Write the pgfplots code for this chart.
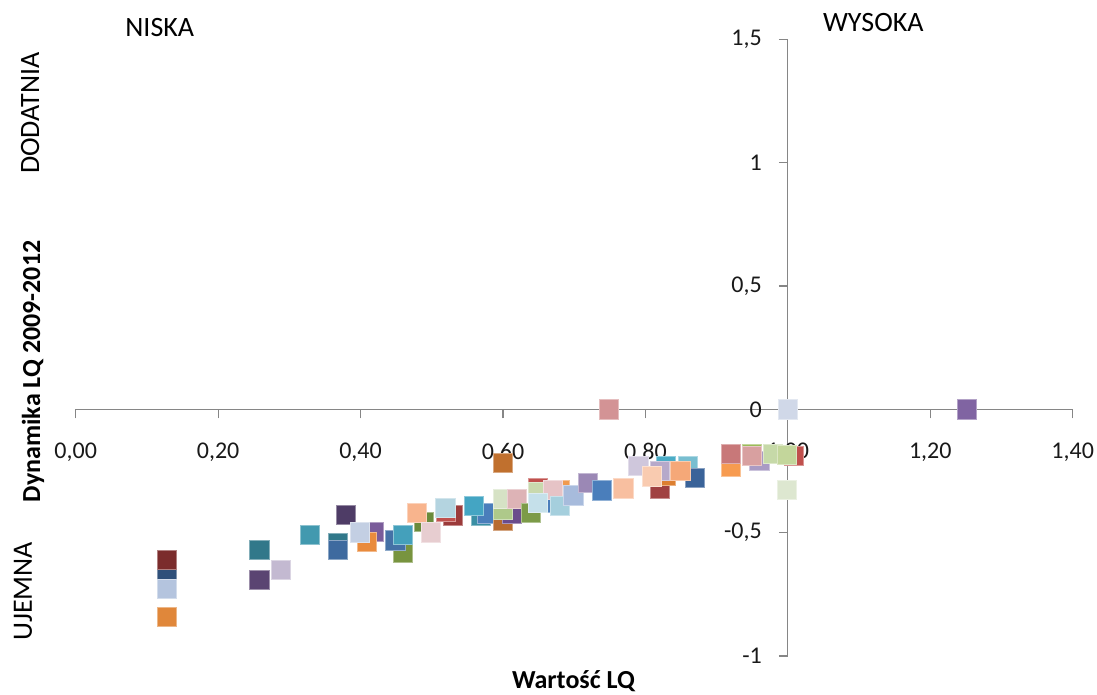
\documentclass[border=0pt]{standalone}
\usepackage{pgfplots}
\pgfplotsset{compat=1.18}
\usepackage{fontspec}
\setmainfont{Carlito}
\definecolor{axgray}{HTML}{868686}
\begin{document}
\begin{tikzpicture}
\path[use as bounding box] (-37.85pt,-19.5pt) rectangle (510.65pt,328pt);
% axis lines, ticks and tick labels (y axis crosses at LQ = 1)
\begin{axis}[
	at={(0pt,0pt)},anchor=south west,
	width=498.5pt,height=308.35pt,scale only axis,
	xmin=-1,xmax=0.4,ymin=-1,ymax=1.5,
	axis lines=middle,
	axis line style={draw=axgray,line width=0.6pt,-},
	tick align=outside,major tick length=4.5pt,
	tick style={draw=axgray,line width=0.6pt},
	hide obscured x ticks=false,hide obscured y ticks=false,
	xtick={-1,-0.8,-0.6,-0.4,-0.2,0,0.2,0.4},
	xticklabels={{0,00},{0,20},{0,40},{0,60},{0,80},{1,00},{1,20},{1,40}},
	ytick={-1,-0.5,0,0.5,1,1.5},
	yticklabels={-1,{-0,5},0,{0,5},1,{1,5}},
	ticklabel style={font=\fontsize{12}{14}\selectfont,text=black!90},
	xticklabel style={anchor=north,yshift=-9pt},
	yticklabel style={anchor=east,xshift=-5pt},
]
\end{axis}
% data
\begin{axis}[
	at={(0pt,0pt)},anchor=south west,
	width=498.5pt,height=308.35pt,scale only axis,
	xmin=0,xmax=1.4,ymin=-1,ymax=1.5,
	hide axis,clip=false,
]
\addplot[scatter,only marks,mark=square*,mark size=4.8pt,
	visualization depends on={value \thisrow{c}\as\col},
	scatter/@pre marker code/.code={\definecolor{mk}{HTML}{\col}\scope[fill=mk,draw=mk!60!white,line width=0.4pt]},
	scatter/@post marker code/.code={\endscope}]
table {
x y c
0.128 -0.684 2F507A
0.128 -0.728 B4C4DE
0.128 -0.610 7B2C2C
0.128 -0.841 E0873A
0.258 -0.569 31788A
0.258 -0.691 5A4472
0.288 -0.651 C3B9D1
0.329 -0.510 4299AF
0.368 -0.541 31788A
0.368 -0.570 3E6A9F
0.379 -0.428 4E3C66
0.419 -0.497 7A5C9A
0.409 -0.539 E98B3D
0.399 -0.499 C3CFE3
0.459 -0.581 78943F
0.449 -0.531 4571A6
0.459 -0.510 44A0BB
0.489 -0.458 6A8B3B
0.479 -0.420 F8B48D
0.499 -0.499 E7CDD0
0.530 -0.430 9B3A3A
0.520 -0.416 C0504D
0.519 -0.401 B4D4E0
0.569 -0.431 3A8FA4
0.578 -0.422 4A7EBB
0.559 -0.392 44A5C3
0.600 -0.451 B86B2E
0.613 -0.424 6A4C8C
0.600 -0.408 AEC98A
0.600 -0.362 D6E2C5
0.619 -0.362 DDB3B6
0.600 -0.218 C0702E
0.639 -0.420 7C9B48
0.649 -0.321 C0504D
0.649 -0.335 C9D9AE
0.680 -0.327 F09A50
0.673 -0.380 4A7EBB
0.670 -0.328 E6C3C6
0.649 -0.380 C5E0EA
0.680 -0.392 A5CFDD
0.699 -0.349 A7BBDC
0.719 -0.299 9B88B5
0.739 -0.329 4A7EBB
0.769 -0.321 F8BFA0
0.749 0 D39395
0.790 -0.230 CFC7DC
0.820 -0.322 A04040
0.829 -0.270 DD7F30
0.829 -0.230 4BACC6
0.820 -0.250 B6A9CA
0.809 -0.272 F9CBB0
0.860 -0.230 78BED0
0.870 -0.278 3A6399
0.849 -0.250 F5A878
0.920 -0.235 F79B50
0.920 -0.181 C87879
0.950 -0.181 9BBB59
0.960 -0.210 A99BC4
0.950 -0.190 D8A0A0
1.009 -0.188 C0504D
0.979 -0.181 C6D9A8
0.999 -0.185 C3D69B
0.999 -0.328 DDE7D0
1.000 0 D0D8E8
1.251 0 8064A2
};
\node[font=\fontsize{14}{16}\selectfont] at (axis cs:0.118,1.546) {NISKA};
\node[font=\fontsize{14}{16}\selectfont] at (axis cs:1.120,1.568) {WYSOKA};
\node[rotate=90,font=\fontsize{14}{16}\selectfont] at (axis cs:-0.064,1.201) {DODATNIA};
\node[rotate=90,font=\fontsize{14}{16}\selectfont] at (axis cs:-0.074,-0.737) {UJEMNA};
\node[rotate=90,font=\fontsize{13}{15}\selectfont\bfseries] at (axis cs:-0.060,0.154) {Dynamika LQ 2009-2012};
\node[anchor=base,inner sep=0pt,font=\fontsize{13}{15}\selectfont\bfseries] at (axis cs:0.699,-1.132) {Wartość LQ};
\end{axis}
\end{tikzpicture}
\end{document}
